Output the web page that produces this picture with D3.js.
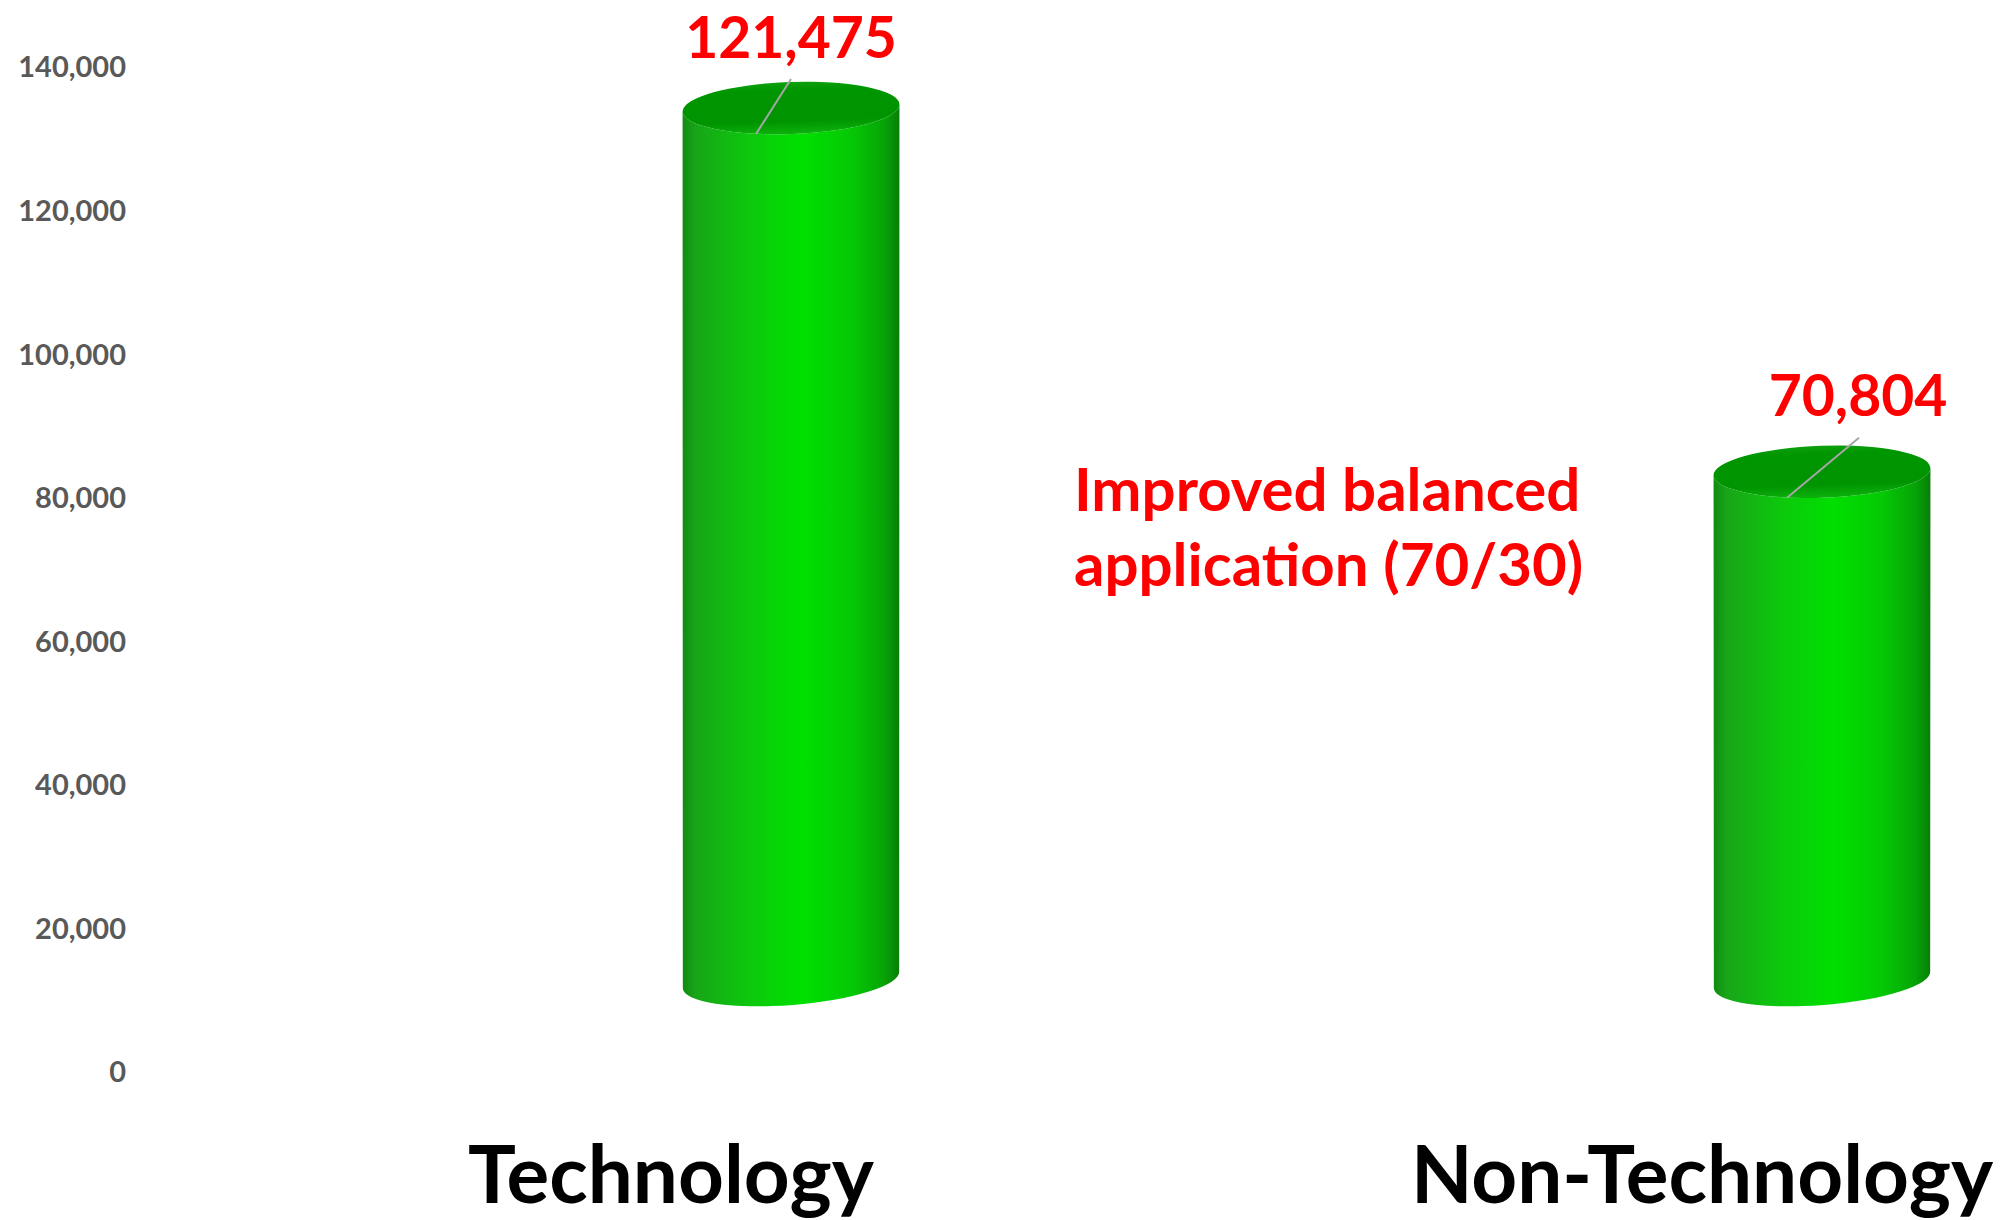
<!DOCTYPE html>
<html lang="en">

<head>
    <meta charset="UTF-8">
    <title>Technology vs Non-Technology</title>
    <style>
        body { margin: 0; background: #fff; }
        svg { display: block; }
    </style>
</head>

<body>
    <svg id="chart" width="2001" height="1220"></svg>

    <script src="https://d3js.org/d3.v7.min.js"></script>
    <script>

        // data
        var categories = ["Technology", "Non-Technology"]
        var values = [121475, 70804]
        var yTicks = [0, 20000, 40000, 60000, 80000, 100000, 120000, 140000]
        var noteLines = ["Improved balanced", "application (70/30)"]

        var svg = d3.select("#chart")

        // scales: category label centres and the value axis
        var x = d3.scalePoint().domain(categories).range([671, 1702])
        var y = d3.scaleLinear().domain([0, 140000]).range([1072, 67])

        // 3D shift of the cylinders relative to the axis / labels
        var depthX = 120, depthY = -92
        var barW = 217, topRy = 26, botRy = 25
        var topTilt = -2, botTilt = -4.5

        var fmt = d3.format(",")

        // gradients
        var defs = svg.append("defs")
        var body = defs.append("linearGradient").attr("id", "body")
            .attr("x1", "0%").attr("x2", "100%").attr("y1", "0%").attr("y2", "0%")
        var bodyStops = [[0, "#128a12"], [0.06, "#18a518"], [0.3, "#0dc70d"], [0.55, "#00e000"],
            [0.78, "#05c805"], [0.93, "#07a307"], [1, "#067e06"]]
        body.selectAll("stop").data(bodyStops).enter().append("stop")
            .attr("offset", function (d) { return d[0] })
            .attr("stop-color", function (d) { return d[1] })

        var cap = defs.append("linearGradient").attr("id", "cap")
            .attr("x1", "0%").attr("x2", "0%").attr("y1", "0%").attr("y2", "100%")
        var capStops = [[0, "#0fa00f"], [0.15, "#009600"], [0.75, "#009400"], [1, "#0cb20c"]]
        cap.selectAll("stop").data(capStops).enter().append("stop")
            .attr("offset", function (d) { return d[0] })
            .attr("stop-color", function (d) { return d[1] })

        // y axis labels
        svg.append("g")
            .selectAll("text")
            .data(yTicks)
            .enter()
            .append("text")
            .attr("x", 126)
            .attr("y", function (d) { return y(d) })
            .attr("dy", "0.36em")
            .attr("text-anchor", "end")
            .style("font-family", "Lato, 'Open Sans', sans-serif")
            .style("font-weight", "bold")
            .style("font-size", "29px")
            .style("fill", "#595959")
            .text(function (d) { return fmt(d) })

        // cylinder outline helper
        function rot(cx, cy, rx, deg, side) {
            var a = deg * Math.PI / 180
            return [cx + side * rx * Math.cos(a), cy + side * rx * Math.sin(a)]
        }

        function cylinderPath(cx, yTop, yBot) {
            var rx = barW / 2
            var tl = rot(cx, yTop, rx, topTilt, -1), tr = rot(cx, yTop, rx, topTilt, 1)
            var bl = rot(cx, yBot, rx, botTilt, -1), br = rot(cx, yBot, rx, botTilt, 1)
            return "M" + tl + "L" + bl +
                "A" + rx + "," + botRy + " " + botTilt + " 0 0 " + br +
                "L" + tr +
                "A" + rx + "," + topRy + " " + topTilt + " 0 1 " + tl + "Z"
        }

        var bars = svg.append("g")
            .selectAll("g")
            .data(categories)
            .enter()
            .append("g")

        bars.append("path")
            .attr("d", function (d, i) {
                var cx = x(d) + depthX
                return cylinderPath(cx, y(values[i]) + depthY, y(0) + depthY)
            })
            .attr("fill", "url(#body)")

        bars.append("ellipse")
            .attr("cx", 0).attr("cy", 0)
            .attr("rx", barW / 2).attr("ry", topRy)
            .attr("transform", function (d, i) {
                return "translate(" + (x(d) + depthX) + "," + (y(values[i]) + depthY) + ") rotate(" + topTilt + ")"
            })
            .attr("fill", "url(#cap)")

        // data labels with leader lines (positions as moved in the original)
        var labelPos = [{ dx: 0, dy: -50, sx: 0, sy: -29 }, { dx: 36, dy: -56, sx: 37, sy: -34 }]

        bars.append("line")
            .attr("x1", function (d, i) { return x(d) + depthX + labelPos[i].sx })
            .attr("y1", function (d, i) { return y(values[i]) + depthY + labelPos[i].sy })
            .attr("x2", function (d) { return x(d) + depthX - 35 })
            .attr("y2", function (d, i) { return y(values[i]) + depthY + topRy })
            .attr("stroke", "#a6a6a6")
            .attr("stroke-width", 2)

        bars.append("text")
            .attr("x", function (d, i) { return x(d) + depthX + labelPos[i].dx })
            .attr("y", function (d, i) { return y(values[i]) + depthY + labelPos[i].dy })
            .attr("text-anchor", "middle")
            .style("font-family", "Lato, 'Open Sans', sans-serif")
            .style("font-weight", "bold")
            .style("font-size", "57px")
            .style("fill", "#ff0000")
            .text(function (d, i) { return fmt(values[i]) })

        // category labels
        svg.append("g")
            .selectAll("text")
            .data(categories)
            .enter()
            .append("text")
            .attr("x", function (d) { return x(d) })
            .attr("y", 1203)
            .attr("text-anchor", "middle")
            .style("font-family", "Lato, 'Open Sans', sans-serif")
            .style("font-weight", "bold")
            .style("font-size", "80px")
            .style("fill", "#000")
            .text(function (d) { return d })

        // annotation
        svg.append("g")
            .selectAll("text")
            .data(noteLines)
            .enter()
            .append("text")
            .attr("x", 1074)
            .attr("y", function (d, i) { return 511 + i * 75 })
            .style("font-family", "Lato, 'Open Sans', sans-serif")
            .style("font-weight", "bold")
            .style("font-size", "60px")
            .style("fill", "#ff0000")
            .text(function (d) { return d })
    </script>

</body>

</html>
